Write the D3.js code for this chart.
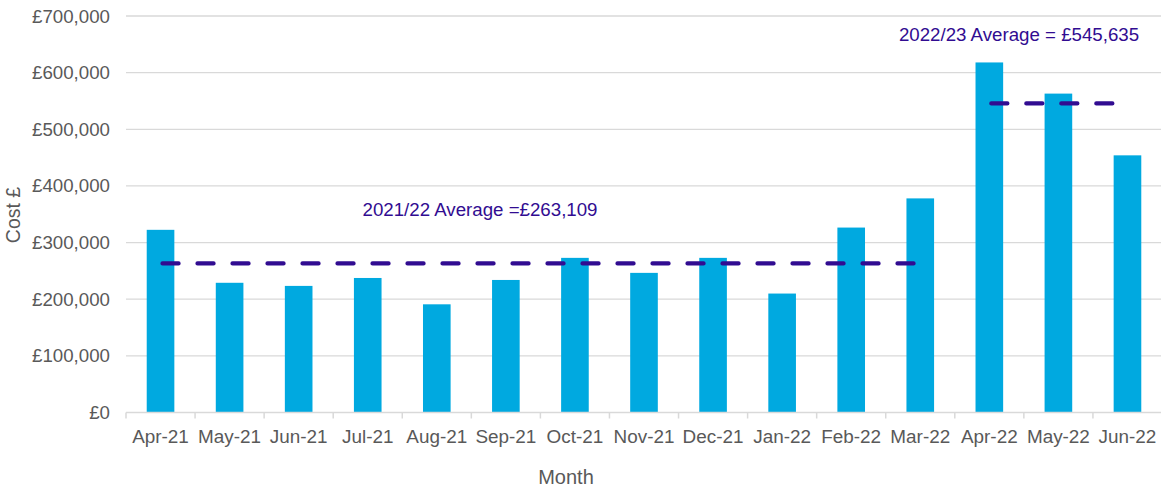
<!DOCTYPE html>
<html>
<head>
<meta charset="utf-8">
<script src="https://cdn.jsdelivr.net/npm/d3@7/dist/d3.min.js"></script>
<style>
  html, body { margin: 0; padding: 0; background: #fff; }
  svg { display: block; font-family: "Liberation Sans", Arial, sans-serif; }
</style>
</head>
<body>
<svg id="chart" width="1161" height="490"></svg>
<script>
const months = ["Apr-21","May-21","Jun-21","Jul-21","Aug-21","Sep-21","Oct-21","Nov-21","Dec-21","Jan-22","Feb-22","Mar-22","Apr-22","May-22","Jun-22"];
const costs = [322500, 229000, 223500, 237500, 191000, 234000, 273000, 246500, 273000, 210000, 326500, 378000, 618000, 563000, 454000];
const yTicks = [0, 100000, 200000, 300000, 400000, 500000, 600000, 700000];
const avg2122 = 263109;
const avg2223 = 545635;
const avg2122Months = ["Apr-21", "Mar-22"];
const avg2223Months = ["Apr-22", "Jun-22"];
const avg2122Label = "2021/22 Average =£263,109";
const avg2223Label = "2022/23 Average = £545,635";

const svg = d3.select("#chart");
const x = d3.scaleBand().domain(months).range([126, 1162]).padding(0);
const y = d3.scaleLinear().domain([0, 700000]).range([412.5, 16]);
const fmt = v => "£" + d3.format(",")(v);
const grid = "#d9d9d9";
const textCol = "#595959";
const purple = "#310C91";

// gridlines
svg.append("g").selectAll("line").data(yTicks.filter(d => d > 0)).join("line")
  .attr("x1", 126).attr("x2", 1161)
  .attr("y1", d => y(d)).attr("y2", d => y(d))
  .attr("stroke", grid).attr("stroke-width", 1.3);

// y tick labels
svg.append("g").selectAll("text").data(yTicks).join("text")
  .attr("x", 110).attr("y", d => y(d)).attr("dy", "0.35em")
  .attr("text-anchor", "end").attr("fill", textCol)
  .attr("font-size", "18.7px").text(fmt);

// bars
const bw = x.bandwidth() / 2.5;
svg.append("g").selectAll("rect").data(months).join("rect")
  .attr("x", (d) => x(d) + x.bandwidth() / 2 - bw / 2)
  .attr("width", bw)
  .attr("y", (d, i) => y(costs[i]))
  .attr("height", (d, i) => y(0) - y(costs[i]))
  .attr("fill", "#00A9E0");

// x axis
const xAxis = svg.append("g");
xAxis.append("line").attr("x1", 126).attr("x2", 1161)
  .attr("y1", y(0)).attr("y2", y(0)).attr("stroke", grid).attr("stroke-width", 1.5);
const boundaries = months.map(m => x(m)).concat([x.range()[1]]);
xAxis.selectAll("line.tick").data(boundaries).join("line").attr("class", "tick")
  .attr("x1", d => d).attr("x2", d => d)
  .attr("y1", y(0)).attr("y2", y(0) + 6).attr("stroke", grid).attr("stroke-width", 1.5);
xAxis.selectAll("text").data(months).join("text")
  .attr("x", d => x(d) + x.bandwidth() / 2).attr("y", 443)
  .attr("text-anchor", "middle").attr("fill", textCol)
  .attr("font-size", "18.9px").text(d => d);

// average lines
function avgLine(range, val) {
  const x1 = x(range[0]) + x.bandwidth() / 2;
  const x2 = x(range[1]) + x.bandwidth() / 2;
  svg.append("line")
    .attr("x1", x1 + 2).attr("x2", x2)
    .attr("y1", y(val)).attr("y2", y(val))
    .attr("stroke", purple).attr("stroke-width", 4.3)
    .attr("stroke-linecap", "round")
    .attr("stroke-dasharray", "16 19");
}
avgLine(avg2122Months, avg2122);
avgLine(avg2223Months, avg2223);

svg.append("text").attr("x", 480).attr("y", 216).attr("text-anchor", "middle")
  .attr("fill", purple).attr("font-size", "18.7px").text(avg2122Label);
svg.append("text").attr("x", 1019).attr("y", 41).attr("text-anchor", "middle")
  .attr("fill", purple).attr("font-size", "18.7px").text(avg2223Label);

// axis titles
svg.append("text").attr("x", 566).attr("y", 484).attr("text-anchor", "middle")
  .attr("fill", textCol).attr("font-size", "20px").text("Month");
svg.append("text").attr("transform", "translate(20,215) rotate(-90)")
  .attr("text-anchor", "middle").attr("fill", textCol)
  .attr("font-size", "19.5px").text("Cost £");
</script>
</body>
</html>
